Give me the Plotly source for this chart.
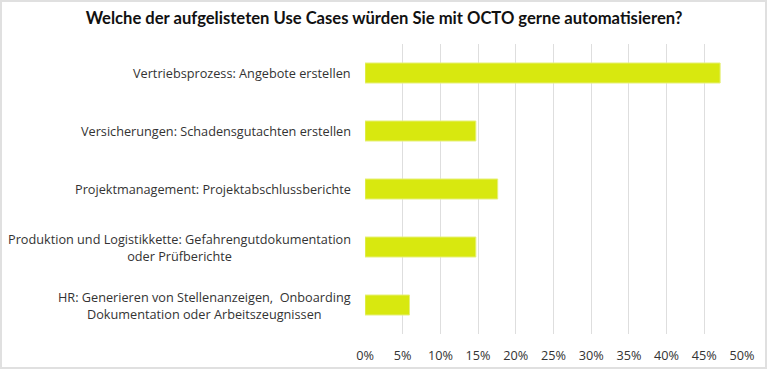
import plotly.graph_objects as go

categories = [
    "Vertriebsprozess: Angebote erstellen",
    "Versicherungen: Schadensgutachten erstellen",
    "Projektmanagement: Projektabschlussberichte",
    "Produktion und Logistikkette: Gefahrengutdokumentation<br>oder Prüfberichte",
    "HR: Generieren von Stellenanzeigen,  Onboarding<br>Dokumentation oder Arbeitszeugnissen",
]
values = [0.471, 0.147, 0.176, 0.147, 0.059]
tick_vals = [0, 0.05, 0.10, 0.15, 0.20, 0.25, 0.30, 0.35, 0.40, 0.45, 0.50]
tick_text = ["0%", "5%", "10%", "15%", "20%", "25%", "30%", "35%", "40%", "45%", "50%"]
title = "Welche der aufgelisteten Use Cases würden Sie mit OCTO gerne automatisieren?"

W, H = 768, 370
ML, MR, MT, MB = 365, 26, 44, 36

fig = go.Figure()
fig.add_trace(go.Bar(
    x=values, y=categories, orientation="h",
    marker=dict(color="#d8e80f", line=dict(color="#e6f07a", width=1)),
    hoverinfo="x+y",
))

annotations = []
for c in categories:
    annotations.append(dict(
        x=0, xref="paper", y=c, yref="y", text=c, showarrow=False,
        xanchor="right", yanchor="middle", xshift=-12, align="center",
        font=dict(family="Open Sans", size=12.7, color="#333333"),
    ))

pw = W - ML - MR
ph = H - MT - MB
fig.update_layout(
    width=W, height=H,
    margin=dict(l=ML, r=MR, t=MT, b=MB, autoexpand=False),
    paper_bgcolor="white", plot_bgcolor="white",
    title=dict(text="<b>" + title + "</b>", x=0.5, xanchor="center",
               y=1 - 18 / H, yanchor="middle", yref="container",
               font=dict(family="Lato", size=16.6, color="#111111")),
    bargap=0.655,
    showlegend=False,
    xaxis=dict(range=[0, 0.5], tickvals=tick_vals, ticktext=tick_text,
               automargin=False,
               showgrid=True, gridcolor="#dedede", gridwidth=1,
               zeroline=False, showline=False, ticks="", ticklabelstandoff=12,
               tickfont=dict(family="Open Sans", size=12.7, color="#333333")),
    yaxis=dict(categoryorder="array", categoryarray=categories[::-1],
               automargin=False,
               showticklabels=False, showgrid=False, zeroline=False, ticks=""),
    annotations=annotations,
    shapes=[dict(type="rect", xref="paper", yref="paper",
                 x0=-(ML - 1) / pw, x1=1 + (MR - 2) / pw,
                 y0=-(MB - 2) / ph, y1=1 + (MT - 1) / ph,
                 line=dict(color="#e0e0e0", width=2), layer="below")],
)
fig.write_html("out.html", config={"displayModeBar": False},
               post_script="document.body.style.margin='0';document.body.style.overflow='hidden';")
